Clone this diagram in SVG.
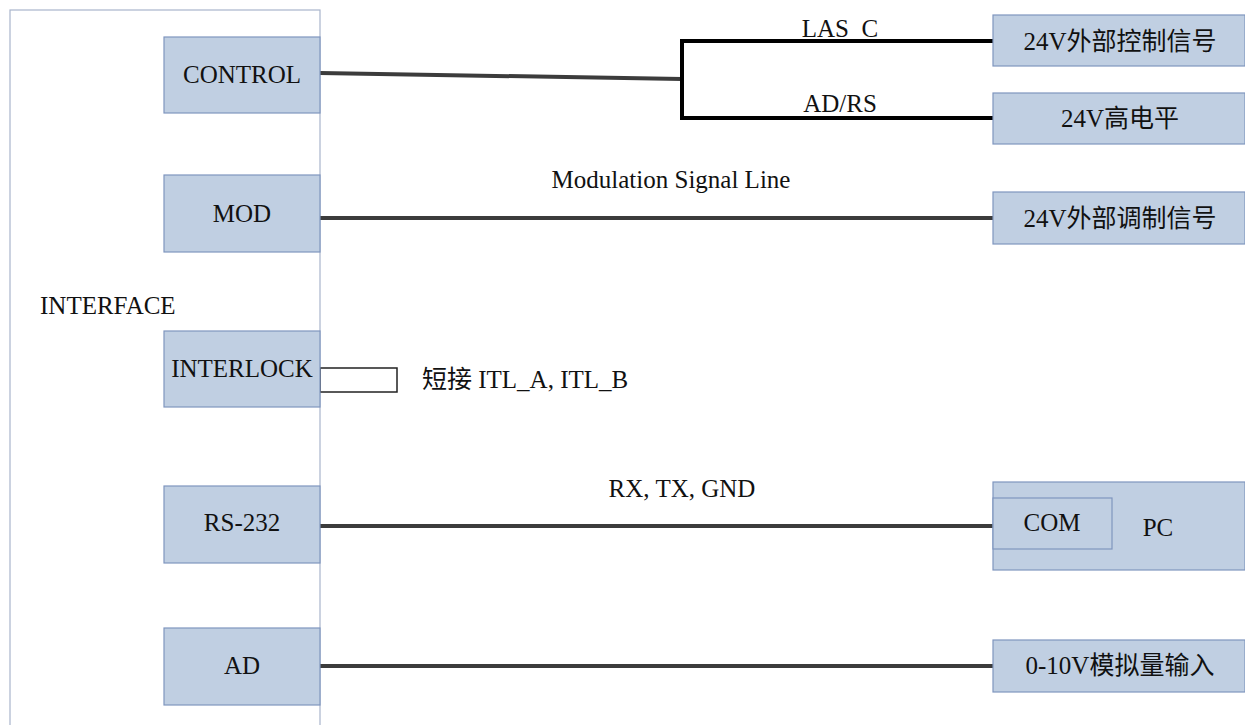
<svg xmlns="http://www.w3.org/2000/svg" width="1245" height="725" viewBox="0 0 1245 725">
<style>
.box{fill:#C0CFE2;stroke:#7F96BE;stroke-width:1.2}
.t{font-family:"Liberation Serif","Noto Sans CJK SC",serif;font-size:25px;fill:#111}
.c{text-anchor:middle}
.w{fill:none;stroke:#3C3C3C;stroke-width:4}
.b{fill:none;stroke:#000;stroke-width:4}
</style>
<rect width="1245" height="725" fill="#fff"/>
<g id="interface">
<rect x="10" y="10" width="310" height="730" fill="none" stroke="#A9B5CC" stroke-width="1.2"/>
<text class="t" x="40" y="314">INTERFACE</text>
</g>
<g id="connectors">
<text class="t c" x="840" y="37">LAS_C</text>
<polyline class="w" points="320,73 682,79"/>
<polyline class="b" points="993,41 682,41 682,118 993,118"/>
<line class="w" x1="320" y1="218" x2="993" y2="218"/>
<rect x="320" y="368" width="77" height="24" fill="none" stroke="#222" stroke-width="1.5"/>
<line class="w" x1="320" y1="526" x2="993" y2="526"/>
<line class="w" x1="320" y1="666" x2="993" y2="666"/>
<text class="t c" x="840" y="112">AD/RS</text>
<text class="t c" x="671" y="188">Modulation Signal Line</text>
<text class="t" x="422" y="388">短接 ITL_A, ITL_B</text>
<text class="t c" x="682" y="497">RX, TX, GND</text>
</g>
<g id="control"><rect class="box" x="164" y="37" width="156" height="76"/><text class="t c" x="242" y="83">CONTROL</text></g>
<g id="mod"><rect class="box" x="164" y="175" width="156" height="77"/><text class="t c" x="242" y="222">MOD</text></g>
<g id="interlock"><rect class="box" x="164" y="331" width="156" height="76"/><text class="t c" x="242" y="377">INTERLOCK</text></g>
<g id="rs232"><rect class="box" x="164" y="486" width="156" height="77"/><text class="t c" x="242" y="531">RS-232</text></g>
<g id="ad"><rect class="box" x="164" y="628" width="156" height="77"/><text class="t c" x="242" y="674">AD</text></g>
<g id="ext-control"><rect class="box" x="993" y="15" width="252" height="51"/><text class="t c" x="1120" y="50">24V外部控制信号</text></g>
<g id="high-level"><rect class="box" x="993" y="93" width="252" height="51"/><text class="t c" x="1120" y="127">24V高电平</text></g>
<g id="ext-mod"><rect class="box" x="993" y="192" width="252" height="52"/><text class="t c" x="1120" y="227">24V外部调制信号</text></g>
<g id="pc"><rect class="box" x="993" y="482" width="252" height="88"/><text class="t c" x="1158" y="536">PC</text>
<g id="com"><rect class="box" x="993" y="498" width="119" height="51"/><text class="t c" x="1052" y="531">COM</text></g></g>
<g id="analog"><rect class="box" x="993" y="640" width="252" height="52"/><text class="t c" x="1120" y="674">0-10V模拟量输入</text></g>
</svg>
